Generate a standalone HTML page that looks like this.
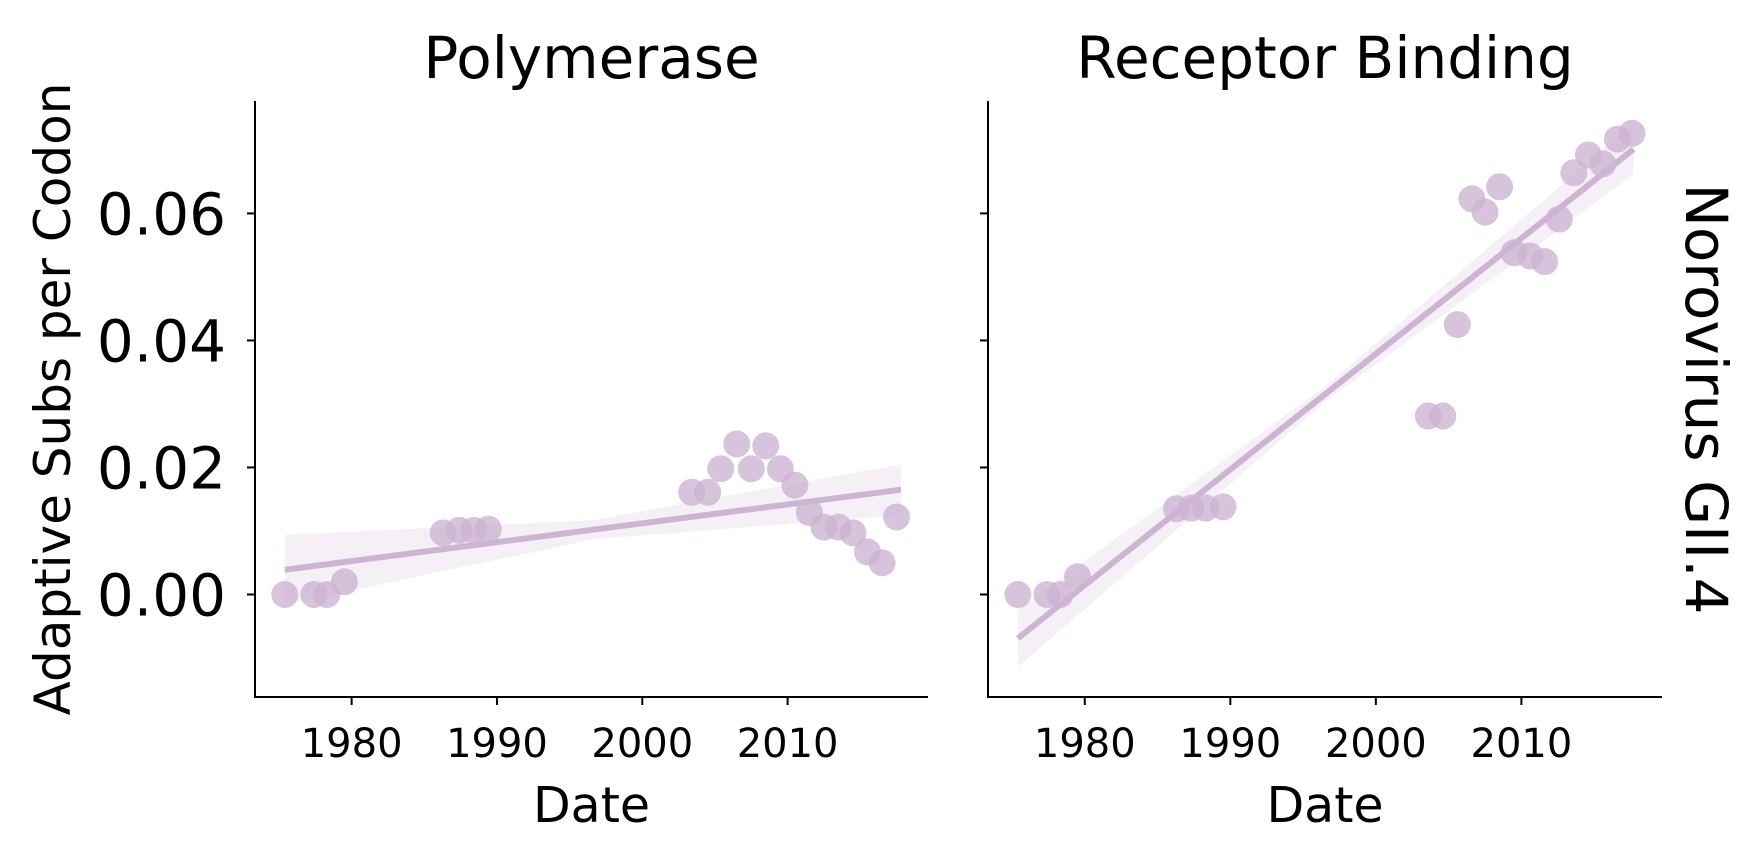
<!DOCTYPE html>
<html><head><meta charset="utf-8"><style>
body{margin:0;background:#fff}
svg{display:block;font-family:"DejaVu Sans","Liberation Sans",sans-serif}
</style></head><body>
<svg id="chart" width="1762" height="861" viewBox="0 0 1762 861" xmlns="http://www.w3.org/2000/svg"></svg>
<script>
const panelTitles = ["Polymerase", "Receptor Binding"];
const polyYears = [1975.4,1977.4,1978.3,1979.5,1986.3,1987.4,1988.4,1989.4,2003.4,2004.5,2005.4,2006.5,2007.5,2008.5,2009.5,2010.5,2011.5,2012.5,2013.5,2014.5,2015.5,2016.5,2017.5];
const polyValues = [0,0,0,0.002,0.0097,0.0101,0.0101,0.0103,0.0161,0.0161,0.0198,0.0237,0.0198,0.0234,0.0198,0.0172,0.0129,0.0106,0.0106,0.0097,0.0067,0.005,0.0122];
const rbYears = [1975.4,1977.4,1978.3,1979.5,1986.3,1987.3,1988.3,1989.5,2003.6,2004.6,2005.6,2006.6,2007.5,2008.5,2009.5,2010.6,2011.6,2012.6,2013.6,2014.6,2015.6,2016.6,2017.6];
const rbValues = [0,0,0,0.0028,0.0135,0.0136,0.0136,0.0138,0.0281,0.0281,0.0425,0.0623,0.0602,0.0642,0.0538,0.0533,0.0524,0.0591,0.0664,0.0692,0.0678,0.0717,0.0726];
const polyFit = [[1975.4,0.0039],[2017.8,0.0165]];
const rbFit = [[1975.4,-0.0069],[2017.7,0.0701]];
const polyCI = [0.0055,0.0015,0.0040];
const rbCI = [0.0045,0.0012,0.0040];
const xTicks = [1980,1990,2000,2010];
const yTicks = [0,0.02,0.04,0.06];
const yTickLabels = ["0.00","0.02","0.04","0.06"];

const svg = document.getElementById('chart');
const NS = "http://www.w3.org/2000/svg";
function mk(tag, attrs, parent){const e=document.createElementNS(NS,tag);for(const k in attrs)e.setAttribute(k,attrs[k]);(parent||svg).appendChild(e);return e;}
const xDom=[1973.35,2019.66], yDom=[-0.01614,0.0777];
const topY=101, bottomY=697;
const panels=[{x0:255,x1:928,yrs:polyYears,vals:polyValues,fit:polyFit,ci:polyCI},{x0:988,x1:1662,yrs:rbYears,vals:rbValues,fit:rbFit,ci:rbCI}];
function ys(v){return bottomY-(v-yDom[0])/(yDom[1]-yDom[0])*(bottomY-topY);}

panels.forEach((p,i)=>{
  const xs=v=>p.x0+(v-xDom[0])/(xDom[1]-xDom[0])*(p.x1-p.x0);
  const g=mk('g',{});
  
  
  const [a,b]=p.fit; const n=30; let up=[],lo=[];
  for(let k=0;k<=n;k++){const t=k/n;const yr=a[0]+(b[0]-a[0])*t;const v=a[1]+(b[1]-a[1])*t;
    const w=t<0.5? p.ci[0]+(p.ci[1]-p.ci[0])*(t/0.5) : p.ci[1]+(p.ci[2]-p.ci[1])*((t-0.5)/0.5);
    up.push(xs(yr)+','+ys(v+w));lo.unshift(xs(yr)+','+ys(v-w));}
  const band=mk('polygon',{points:up.concat(lo).join(' '),fill:'#cdb4d2','fill-opacity':0.2},g);
  
  
  const ln=mk('line',{x1:xs(a[0]),y1:ys(a[1]),x2:xs(b[0]),y2:ys(b[1]),stroke:'#cdb4d2','stroke-width':6},g);
  
  
  p.yrs.forEach((yr,j)=>{
    const c=mk('circle',{cx:xs(yr),cy:ys(p.vals[j]),r:13.5,fill:'#cdb4d2','fill-opacity':0.8},g);
    
    
  });
  const ax=mk('path',{d:`M${p.x0},${topY} V${bottomY} H${p.x1}`,fill:'none',stroke:'#000','stroke-width':2},g);
  
  
  xTicks.forEach(t=>{
    mk('line',{x1:xs(t),x2:xs(t),y1:bottomY,y2:bottomY+8,stroke:'#000','stroke-width':2},g);
    const tx=mk('text',{x:xs(t),y:757,'font-size':40,'text-anchor':'middle'},g);tx.textContent=t;
    
    
  });
  yTicks.forEach((t,j)=>{
    mk('line',{x1:p.x0-8,x2:p.x0,y1:ys(t),y2:ys(t),stroke:'#000','stroke-width':2},g);
    if(i===0){const tx=mk('text',{x:226,y:ys(t)+21,'font-size':58,'text-anchor':'end'},g);tx.textContent=yTickLabels[j];
      
      }
  });
  const tt=mk('text',{x:(p.x0+p.x1)/2,y:78,'font-size':58,'text-anchor':'middle'},g);tt.textContent=panelTitles[i];
  
  
  const xl=mk('text',{x:(p.x0+p.x1)/2,y:822,'font-size':49,'text-anchor':'middle'},g);xl.textContent='Date';
  
  
});
const yl=mk('text',{x:0,y:0,'font-size':50,'text-anchor':'middle',transform:'translate(70,399) rotate(-90)'});yl.textContent='Adaptive Subs per Codon';


const sl=mk('text',{x:0,y:0,'font-size':58,'text-anchor':'middle',transform:'translate(1686,399) rotate(90)'});sl.textContent='Norovirus GII.4';


</script>
</body></html>
